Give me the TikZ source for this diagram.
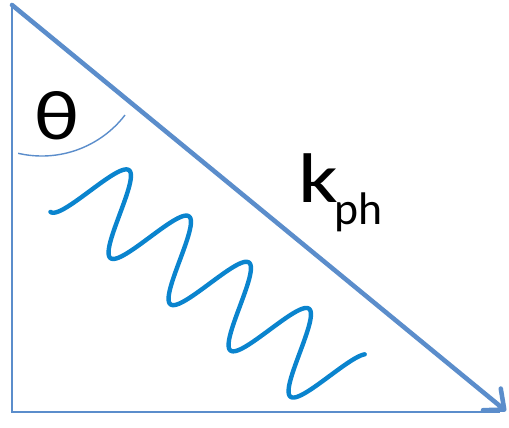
\documentclass[tikz,border=0pt]{standalone}
\usepackage{fontspec}
\setmainfont{Carlito}
\usetikzlibrary{arrows.meta}
\definecolor{rayblue}{HTML}{5B8DCB}
\definecolor{wavecyan}{HTML}{0A84CE}

\begin{document}
\begin{tikzpicture}[
    x=0.02cm, y=0.02cm,
    axisline/.style={rayblue, line width=1.5pt},
    ray/.style={-{Straight Barb[length=3.2mm, width=5.6mm, round]}, rayblue, line width=2.6pt, line cap=round},
    anglearc/.style={rayblue, line width=0.8pt},
    wave/.style={wavecyan, line width=2.5pt, line cap=round, line join=round},
    lbl/.style={inner sep=0pt, font=\fontsize{40}{42}\selectfont},
  ]
  \useasboundingbox (0,0) rectangle (509,-427);

  \coordinate (top) at (12,-5);
  \coordinate (corner) at (12,-412);
  \coordinate (base) at (500,-412);
  \coordinate (tip) at (506,-411);

  \draw[axisline] (top) -- (corner) -- (base);
  \draw[ray] (top) -- (tip);

  % angle at the top corner
  \draw[anglearc] (41.8,-51) ++(-103:105) arc[start angle=-103, end angle=-37.6, radius=105];

  % photon
  \draw[wave] plot[domain=0:4.45, samples=300, variable=\t]
    ({74.75 + 60*\t - 24.3*cos(360*\t)}, {-179.5 - 46.2*\t - 32.4*cos(360*\t)});

  \node[lbl] (theta) at (56.5,-115.5) {\scalebox{1.2}[1]{θ}};
  \node[lbl, anchor=base west] (kph) at (298,-202)
    {\scalebox{1.25}[1]{k}\kern-2pt\raisebox{-13pt}{\fontsize{26}{28}\selectfont ph}};
\end{tikzpicture}
\end{document}
